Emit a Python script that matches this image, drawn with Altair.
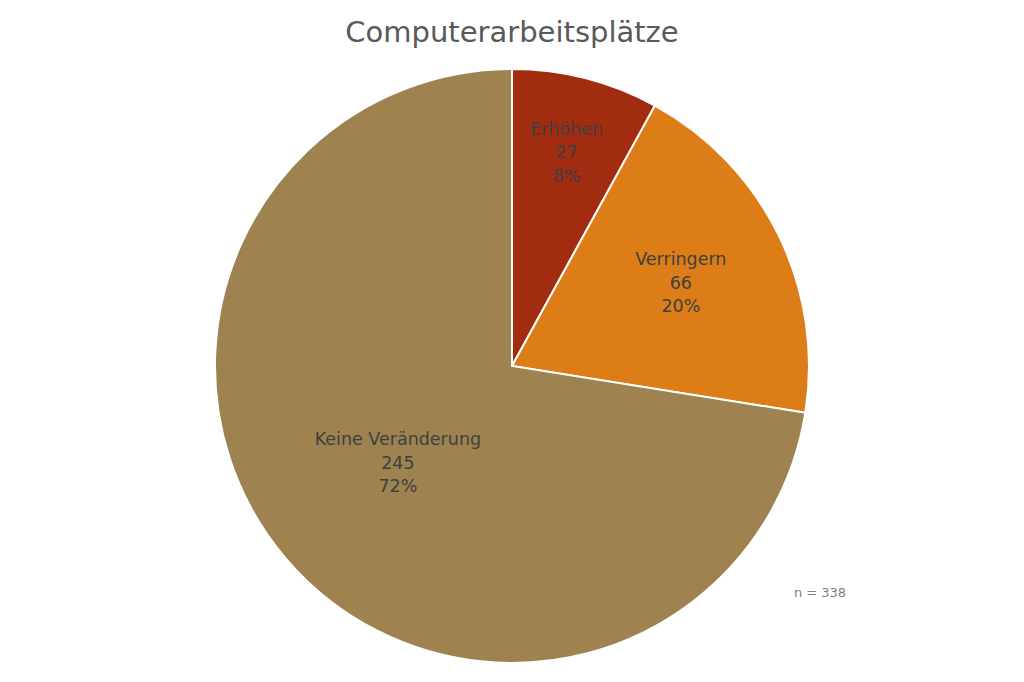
import altair as alt
import pandas as pd

categories = ["Erhöhen", "Verringern", "Keine Veränderung"]
counts = [27, 66, 245]
percents = ["8%", "20%", "72%"]
colors = ["#A12C10", "#DD7D18", "#9E8250"]
order = [0, 1, 2]
title_text = "Computerarbeitsplätze"
note_text = "n = 338"

df = pd.DataFrame({"cat": categories, "n": counts, "pct": percents, "ord": order})

W, H = 1008, 666
CX, CY = 504, 358
R = 297
FONT = "DejaVu Sans"

base = alt.Chart(df).encode(
    theta=alt.Theta("n:Q", stack=True),
    order=alt.Order("ord:Q"),
)

color = alt.Color("cat:N", scale=alt.Scale(domain=categories, range=colors), legend=None)

pie = base.mark_arc(outerRadius=R, stroke="white", strokeWidth=2).encode(
    color=color,
    x=alt.value(CX), y=alt.value(CY),
)

def label_layer(cat, radius):
    return base.transform_calculate(
        lab="datum.cat + '\\n' + datum.n + '\\n' + datum.pct"
    ).mark_text(
        radius=radius, lineBreak="\n", font=FONT, fontSize=17.5, lineHeight=23.5,
        color="#404040", align="center", baseline="middle", dy=-23,
    ).encode(
        text=alt.condition(alt.datum.cat == cat, "lab:N", alt.value("")),
        x=alt.value(CX), y=alt.value(CY),
    )

labels = label_layer("Erhöhen", 220) + label_layer("Verringern", 188) + label_layer("Keine Veränderung", 150)

title = alt.Chart(pd.DataFrame({"t": [title_text]})).mark_text(
    font=FONT, fontSize=29, color="#595959", align="center", baseline="middle"
).encode(text="t:N", x=alt.value(CX), y=alt.value(25))

note = alt.Chart(pd.DataFrame({"t": [note_text]})).mark_text(
    font=FONT, fontSize=13, color="#7F7F7F", align="center", baseline="middle"
).encode(text="t:N", x=alt.value(812), y=alt.value(585))

chart = alt.layer(pie, labels, title, note).properties(
    width=W, height=H, autosize=alt.AutoSizeParams(type="none"), padding=0
).configure(background="white").configure_view(strokeWidth=0, stroke="transparent")

chart.save("out.html", embed_options={"renderer": "svg", "actions": False})
